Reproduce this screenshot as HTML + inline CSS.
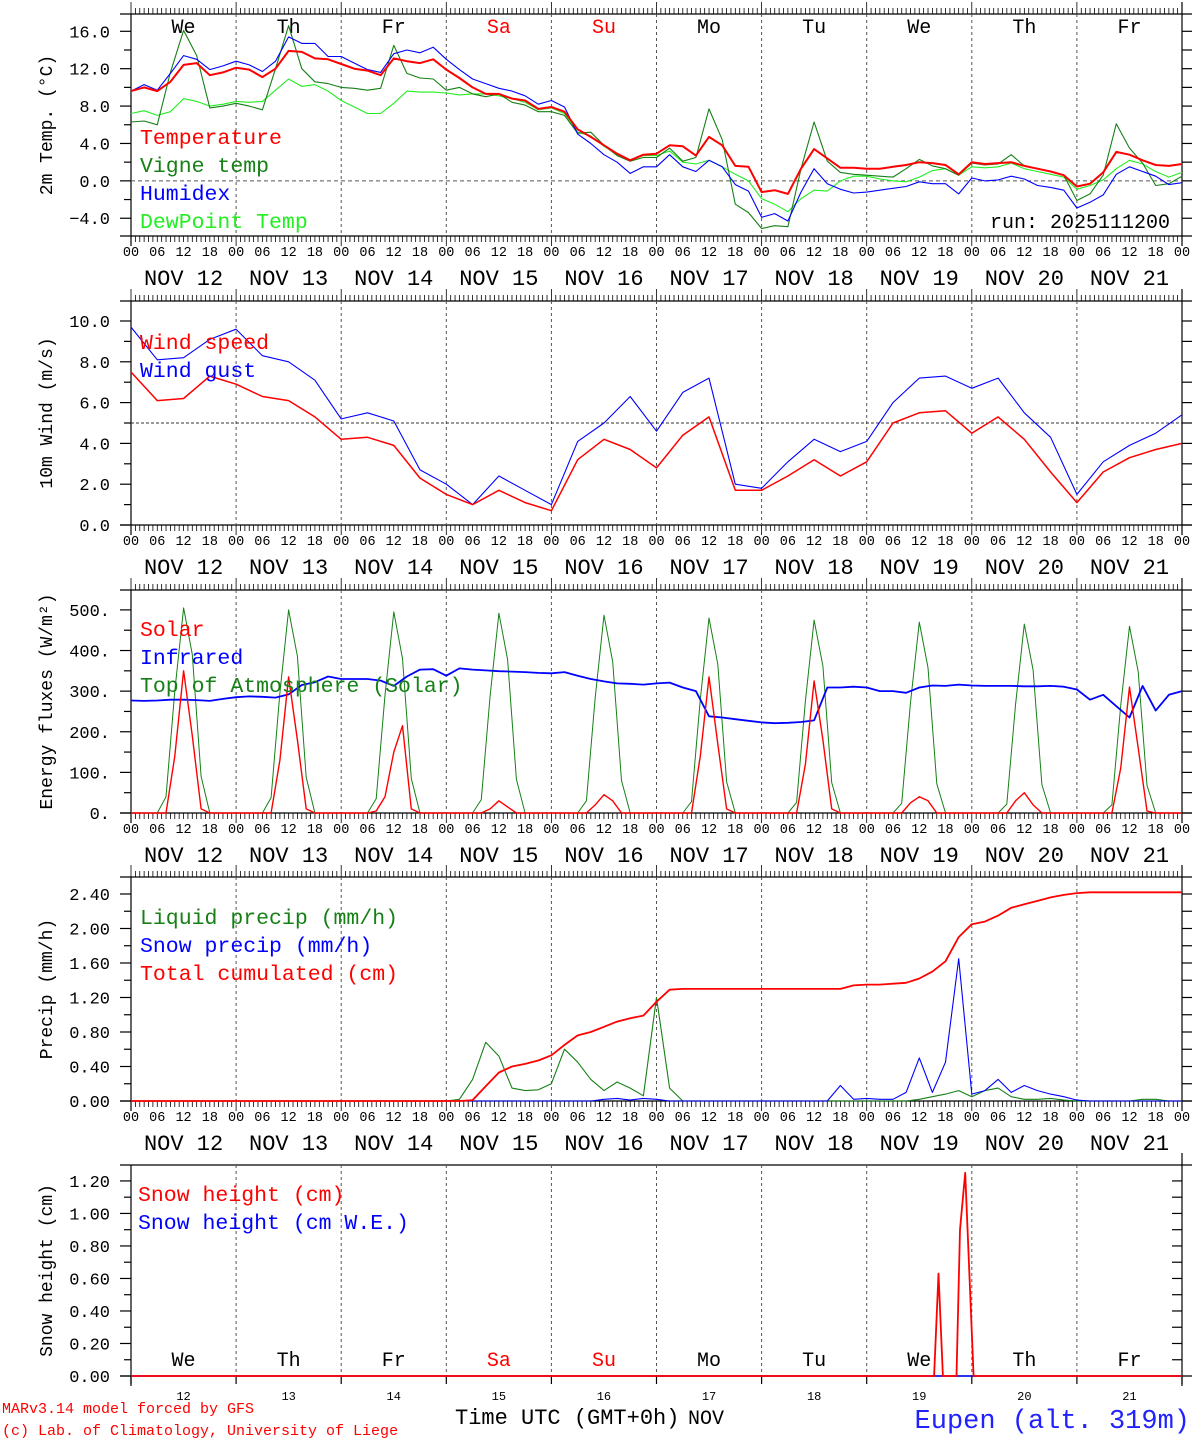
<!DOCTYPE html>
<html><head><meta charset="utf-8"><title>Meteogram Eupen</title>
<style>
html,body{margin:0;padding:0;background:#fff;}
svg{display:block;font-family:"Liberation Mono","DejaVu Sans Mono",monospace;}
</style></head>
<body>
<svg id="chart" xmlns="http://www.w3.org/2000/svg" width="1194" height="1440" viewBox="0 0 1194 1440"></svg>
<script>
// ---------- DATA ----------
const tempValues=[9.6,10.0,9.6,10.6,12.4,12.6,11.3,11.6,12.1,11.9,11.1,12.0,13.9,13.8,13.1,13.0,12.5,12.0,11.8,11.3,13.1,12.8,12.6,13.0,11.9,11.0,10.0,9.3,9.3,8.8,8.6,7.7,7.9,7.4,5.5,4.7,3.8,2.9,2.2,2.8,2.9,3.8,3.7,2.7,4.7,3.8,1.6,1.5,-1.2,-1.0,-1.4,1.3,3.4,2.4,1.4,1.4,1.3,1.3,1.5,1.7,2.0,1.9,1.7,0.7,2.0,1.8,1.9,2.0,1.6,1.3,1.0,0.6,-0.6,-0.3,0.9,3.1,2.8,2.2,1.7,1.6,1.8];
const vigneValues=[6.3,6.4,6.0,11.6,16.1,13.4,7.8,8.0,8.3,8.0,7.6,12.0,16.6,12.0,10.6,10.4,10.0,9.9,9.7,9.9,14.5,11.5,11.0,10.9,9.7,10.0,9.3,9.0,9.3,8.4,8.1,7.4,7.4,7.0,5.1,5.2,3.8,2.7,2.1,2.5,2.5,3.5,2.1,2.5,7.7,4.4,-2.5,-3.4,-5.1,-4.8,-4.9,1.3,6.3,2.1,0.9,0.7,0.6,0.5,0.4,1.3,2.3,1.6,1.3,0.6,1.9,1.7,1.8,2.8,1.6,1.3,1.0,0.6,-2.1,-1.4,0.6,6.1,3.5,1.9,-0.5,-0.3,0.5];
const humidexValues=[9.6,10.3,9.7,11.5,13.4,13.0,11.9,12.3,12.8,12.4,11.7,12.8,15.4,14.7,14.7,13.3,13.3,12.6,11.9,11.6,13.6,14.0,13.7,14.3,13.0,11.9,10.9,10.4,9.9,9.6,9.1,8.2,8.6,7.9,5.0,4.0,2.8,2.0,0.8,1.5,1.5,2.8,1.5,1.0,2.2,1.5,-0.4,-1.1,-3.9,-3.5,-4.3,-1.2,1.3,-0.3,-0.9,-1.3,-1.2,-1.0,-0.8,-0.6,-0.1,-0.3,-0.3,-1.4,0.3,0.0,0.1,0.5,0.2,-0.5,-0.7,-1.0,-2.9,-2.3,-1.5,0.7,1.5,1.0,0.5,-0.4,-0.2];
const dewValues=[7.2,7.5,7.0,7.4,8.8,8.5,8.0,8.2,8.5,8.4,8.5,9.7,10.9,10.1,10.3,9.6,8.6,7.9,7.2,7.2,8.3,9.6,9.5,9.5,9.4,9.2,9.3,9.3,9.1,8.8,8.4,7.6,7.8,7.2,5.2,4.8,3.7,2.8,2.2,2.7,2.7,3.2,2.0,1.8,2.2,1.5,0.7,0.0,-1.9,-2.5,-3.3,-1.9,-1.0,-1.1,0.0,0.5,0.5,0.2,0.0,-0.1,0.4,1.1,1.3,0.6,1.5,1.4,1.5,1.9,1.3,1.0,0.7,0.4,-0.9,-0.5,0.1,1.3,2.2,1.8,1.0,0.4,0.9];
const windSpeed=[7.5,6.1,6.2,7.3,6.9,6.3,6.1,5.3,4.2,4.3,3.9,2.3,1.5,1.0,1.7,1.1,0.7,3.2,4.2,3.7,2.8,4.4,5.3,1.7,1.7,2.4,3.2,2.4,3.1,5.0,5.5,5.6,4.5,5.3,4.2,2.6,1.1,2.6,3.3,3.7,4.0];
const windGust=[9.7,8.1,8.2,9.1,9.6,8.3,8.0,7.1,5.2,5.5,5.1,2.7,2.0,1.0,2.4,1.7,1.0,4.1,5.0,6.3,4.6,6.5,7.2,2.0,1.8,3.1,4.2,3.6,4.1,6.0,7.2,7.3,6.7,7.2,5.5,4.3,1.5,3.1,3.9,4.5,5.4];
const solarValues=[
0,0,0,0,0,140,350,190,10,0,0,0,
0,0,0,0,0,130,335,180,10,0,0,0,
0,0,0,0,5,40,150,215,10,0,0,0,
0,0,0,0,0,10,30,15,0,0,0,0,
0,0,0,0,0,20,45,30,0,0,0,0,
0,0,0,0,0,140,335,170,10,0,0,0,
0,0,0,0,0,120,325,180,10,0,0,0,
0,0,0,0,0,25,40,30,0,0,0,0,
0,0,0,0,0,30,50,20,0,0,0,0,
0,0,0,0,0,110,310,160,5,0,0,0,0];
const toaValues=[
0,0,0,0,40,300,505,390,90,0,0,0,
0,0,0,0,38,296,500,386,88,0,0,0,
0,0,0,0,35,290,495,380,85,0,0,0,
0,0,0,0,33,288,492,378,83,0,0,0,
0,0,0,0,30,284,487,372,80,0,0,0,
0,0,0,0,28,280,480,366,77,0,0,0,
0,0,0,0,26,276,475,362,75,0,0,0,
0,0,0,0,24,272,470,358,72,0,0,0,
0,0,0,0,22,268,465,352,70,0,0,0,
0,0,0,0,20,264,460,348,68,0,0,0,0];
const infraredValues=[277,276,277,279,279,278,276,281,285,287,286,284,292,315,322,336,330,330,330,326,313,336,353,354,338,356,353,351,349,348,347,345,344,347,338,330,324,319,318,316,319,321,309,300,238,235,231,227,223,221,222,224,228,309,309,311,309,300,300,296,309,314,313,316,314,313,313,313,312,312,313,311,304,279,291,263,235,313,252,291,300];
const liquidPrecip=[0,0,0,0,0,0,0,0,0,0,0,0,0,0,0,0,0,0,0,0,0,0,0,0,0,0.02,0.25,0.68,0.52,0.15,0.12,0.13,0.2,0.6,0.45,0.25,0.12,0.22,0.15,0.06,1.2,0.15,0,0,0,0,0,0,0,0,0,0,0,0,0,0,0,0,0,0,0.02,0.05,0.08,0.12,0.05,0.12,0.15,0.05,0.02,0.02,0.03,0.01,0,0,0,0,0,0.02,0.02,0,0];
const snowPrecip=[0,0,0,0,0,0,0,0,0,0,0,0,0,0,0,0,0,0,0,0,0,0,0,0,0,0,0,0,0,0,0,0,0,0,0,0,0.02,0.03,0.01,0.03,0.02,0,0,0,0,0,0,0,0,0,0,0,0,0,0.18,0.02,0.03,0.02,0.02,0.1,0.5,0.1,0.45,1.65,0.08,0.12,0.25,0.1,0.18,0.12,0.08,0.05,0.01,0,0,0,0,0,0,0,0];
const totalCumulated=[0,0,0,0,0,0,0,0,0,0,0,0,0,0,0,0,0,0,0,0,0,0,0,0,0,0,0.01,0.17,0.33,0.40,0.43,0.47,0.53,0.65,0.76,0.80,0.86,0.92,0.96,0.99,1.15,1.29,1.30,1.30,1.30,1.30,1.30,1.30,1.30,1.30,1.30,1.30,1.30,1.30,1.30,1.34,1.35,1.35,1.36,1.37,1.42,1.50,1.62,1.90,2.05,2.08,2.15,2.24,2.28,2.32,2.36,2.39,2.41,2.42,2.42,2.42,2.42,2.42,2.42,2.42,2.42];
const snowHours=[0,183.4,184.4,185.4,188.5,189.3,190.5,192.4,240];
const snowHeight=[0,0,0.63,0,0,0.9,1.25,0,0];
const snowWE=[0,0,0,0,0,0,0,0,0];
const dayNames=["We","Th","Fr","Sa","Su","Mo","Tu","We","Th","Fr"];
const dayNums=["12","13","14","15","16","17","18","19","20","21"];
const hourLabels=["00","06","12","18"];
const tempTicks=[-4,0,4,8,12,16];
const windTicks=[0,2,4,6,8,10];
const fluxTicks=[0,100,200,300,400,500];
const precipTicks=[0,0.4,0.8,1.2,1.6,2.0,2.4];
const snowTicks=[0,0.2,0.4,0.6,0.8,1.0,1.2];

// ---------- DRAW ----------
const NS="http://www.w3.org/2000/svg";
const svg=document.getElementById('chart');
const L=131,R=1182;
const X=h=>L+h*(R-L)/240;
function el(tag,attrs,parent){const e=document.createElementNS(NS,tag);for(const k in attrs)e.setAttribute(k,attrs[k]);(parent||svg).appendChild(e);return e;}
function txt(s,x,y,size,color,anchor,parent){const t=el('text',{x:x,y:y,'font-size':size,fill:color||'#000','text-anchor':anchor||'start'},parent);t.textContent=s;return t;}

const panels=[
 {name:'temp',top:14,bot:236,vmin:-5.9,vmax:17.85,ticks:tempTicks,minor:2,fmt:v=>v.toFixed(1),title:'2m Temp. (°C)',xlabels:true},
 {name:'wind',top:301,bot:525,vmin:0,vmax:10.98,ticks:windTicks,minor:1,fmt:v=>v.toFixed(1),title:'10m Wind (m/s)',xlabels:true},
 {name:'flux',top:590,bot:813,vmin:0,vmax:549,ticks:fluxTicks,minor:50,fmt:v=>v.toFixed(0)+'.',title:'Energy fluxes (W/m²)',xlabels:true},
 {name:'precip',top:877,bot:1101,vmin:0,vmax:2.597,ticks:precipTicks,minor:0.2,fmt:v=>v.toFixed(2),title:'Precip (mm/h)',xlabels:true},
 {name:'snow',top:1165,bot:1376,vmin:0,vmax:1.298,ticks:snowTicks,minor:0.1,fmt:v=>v.toFixed(2),title:'Snow height (cm)',xlabels:false}
];
panels.forEach(p=>{p.Y=v=>p.bot-(v-p.vmin)*(p.bot-p.top)/(p.vmax-p.vmin);});

function series(p,hours,vals,color,w,name){
  const pts=vals.map((v,i)=>X(hours(i)).toFixed(1)+','+p.Y(v).toFixed(1)).join(' ');
  const pl=el('polyline',{points:pts,fill:'none',stroke:color,'stroke-width':w,'stroke-linejoin':'round'},p.g);
  
  
}

panels.forEach((p,pi)=>{
  const g=el('g',{});
  
  
  p.g=g;
  const ax=el('g',{stroke:'#000','stroke-width':1.2,fill:'none'},g);
  
  
  el('line',{x1:120,y1:p.top,x2:R+10,y2:p.top},ax);
  el('line',{x1:120,y1:p.bot,x2:R+10,y2:p.bot},ax);
  el('line',{x1:L,y1:p.top,x2:L,y2:p.bot+10},ax);
  el('line',{x1:R,y1:p.top-12,x2:R,y2:p.bot+10},ax);
  for(let v=p.vmin<0?-4:0; v<=p.vmax+1e-9; v+=p.minor){
    const y=p.Y(v); if(y<p.top+2) continue;
    const major=p.ticks.some(t=>Math.abs(t-v)<1e-6);
    el('line',{x1:major?120:124,y1:y,x2:L,y2:y},ax);
    if(pi<4) el('line',{x1:R,y1:y,x2:R+10,y2:y},ax); else el('line',{x1:R-10,y1:y,x2:R,y2:y},ax);
  }
  const yl=el('g',{},g);
  
  
  p.ticks.forEach(t=>{let s=p.fmt(t); if(t<0)s='−'+p.fmt(-t); txt(s,110,p.Y(t)+6,17,'#000','end',yl);});
  const tt=txt(p.title,0,0,18,'#000','middle',g);
  tt.setAttribute('transform','translate(52,'+((p.top+p.bot)/2)+') rotate(-90)');
  
  
  if(pi<4){
    for(let h=0;h<=240;h++){
      const x=X(h); const maj=h%24===0;
      el('line',{x1:x,y1:p.bot,x2:x,y2:p.bot+(maj?10:6),'stroke-width':0.8},ax);
      el('line',{x1:x,y1:p.top,x2:x,y2:p.top-(maj?12:6),'stroke-width':0.8},ax);
    }
  } else {
    for(let d=0;d<=10;d++){el('line',{x1:X(d*24),y1:p.bot,x2:X(d*24),y2:p.bot+8},ax);}
  }
  const gr=el('g',{stroke:'#555','stroke-width':1,'stroke-dasharray':'3,3'},g);
  
  
  for(let d=1;d<10;d++) el('line',{x1:X(d*24),y1:p.top,x2:X(d*24),y2:p.bot},gr);
  if(p.xlabels){
    const xl=el('g',{},g);
    
    
    for(let d=0;d<10;d++){
      hourLabels.forEach((s,k)=>txt(s,X(d*24+k*6),p.bot+20,13.5,'#000','middle',xl));
      txt('NOV '+dayNums[d],X(d*24+12),p.bot+49,22,'#000','middle',xl);
    }
    txt('00',X(240),p.bot+20,13.5,'#000','middle',xl);
  }
});

const P=panels;
el('line',{x1:L,y1:P[0].Y(0),x2:R,y2:P[0].Y(0),stroke:'#555','stroke-dasharray':'4,3'},P[0].g);
dayNames.forEach((d,i)=>{const t=txt(d,X(i*24+12),33,20,(i===3||i===4)?'#ff0000':'#000','middle',P[0].g);
  
  });
series(P[0],i=>i*3,dewValues,'#22ee22',1.1,'dewpoint-line');
series(P[0],i=>i*3,vigneValues,'#168016',1.1,'vigne-temp-line');
series(P[0],i=>i*3,humidexValues,'#0000ff',1.1,'humidex-line');
series(P[0],i=>i*3,tempValues,'#ff0000',2,'temperature-line');
[['Temperature','#ff0000'],['Vigne temp','#168016'],['Humidex','#0000ff'],['DewPoint Temp','#22ee22']].forEach((e,i)=>{
  const t=txt(e[0],140,144+i*28,21.5,e[1],'start',P[0].g);
  
  });
const run=txt('run: 2025111200',1170,228,20,'#000','end',P[0].g);



el('line',{x1:L,y1:P[1].Y(5),x2:R,y2:P[1].Y(5),stroke:'#333','stroke-dasharray':'3,2'},P[1].g);
series(P[1],i=>i*6,windGust,'#0000ff',1.1,'wind-gust-line');
series(P[1],i=>i*6,windSpeed,'#ff0000',1.5,'wind-speed-line');
[['Wind speed','#ff0000'],['Wind gust','#0000ff']].forEach((e,i)=>{
  const t=txt(e[0],140,349+i*28,21.5,e[1],'start',P[1].g);
  
  });

series(P[2],i=>i*2,toaValues,'#168016',1,'toa-solar-line');
series(P[2],i=>i*3,infraredValues,'#0000ff',1.8,'infrared-line');
series(P[2],i=>i*2,solarValues,'#ff0000',1.4,'solar-line');
[['Solar','#ff0000'],['Infrared','#0000ff'],['Top of Atmosphere (Solar)','#168016']].forEach((e,i)=>{
  const t=txt(e[0],140,636+i*28,21.5,e[1],'start',P[2].g);
  
  });

series(P[3],i=>i*3,liquidPrecip,'#168016',1.1,'liquid-precip-line');
series(P[3],i=>i*3,snowPrecip,'#0000ff',1.1,'snow-precip-line');
series(P[3],i=>i*3,totalCumulated,'#ff0000',1.8,'total-cumulated-line');
[['Liquid precip (mm/h)','#168016'],['Snow precip (mm/h)','#0000ff'],['Total cumulated (cm)','#ff0000']].forEach((e,i)=>{
  const t=txt(e[0],140,924+i*28,21.5,e[1],'start',P[3].g);
  
  });

series(P[4],i=>snowHours[i],snowWE,'#0000ff',1.4,'snow-we-line');
series(P[4],i=>snowHours[i],snowHeight,'#ff0000',1.8,'snow-height-line');
[['Snow height (cm)','#ff0000'],['Snow height (cm W.E.)','#0000ff']].forEach((e,i)=>{
  const t=txt(e[0],138,1201+i*28,21.5,e[1],'start',P[4].g);
  
  });
dayNames.forEach((d,i)=>{
  const t=txt(d,X(i*24+12),1366,20,(i===3||i===4)?'#ff0000':'#000','middle',P[4].g);
  
  
  const n=txt(dayNums[i],X(i*24+12),1400,12,'#000','middle',P[4].g);
  
  
});

const f1=txt('MARv3.14 model forced by GFS',2,1413,15,'#ff0000');


const f2=txt('(c) Lab. of Climatology, University of Liege',2,1435,15,'#ff0000');


const xt=txt('Time UTC (GMT+0h)',455,1424,22,'#000');


const nv=txt('NOV',688,1424,20,'#000');


const loc=txt('Eupen (alt. 319m)',1190,1428,27,'#2222ff','end');


</script>
</body></html>
